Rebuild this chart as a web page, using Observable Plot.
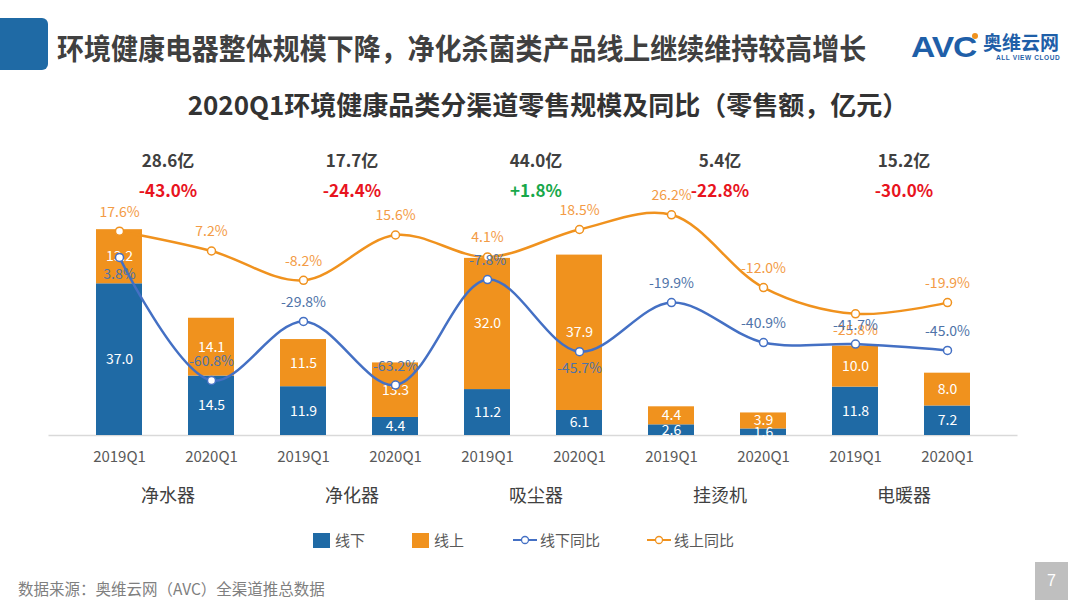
<!DOCTYPE html>
<html><head><meta charset="utf-8">
<script src="https://cdn.jsdelivr.net/npm/d3@7"></script>
<script src="https://cdn.jsdelivr.net/npm/@observablehq/plot@0.6"></script>
<style>
body{margin:0;width:1080px;height:608px;overflow:hidden;background:#fff;font-family:"Noto Sans CJK SC","Noto Sans",sans-serif;position:relative}
.abs{position:absolute;white-space:nowrap}
.lg{position:absolute;top:531px;font-size:15px;color:#595959;line-height:18px;display:flex;align-items:center}
</style></head><body>
<div class="abs" style="left:0;top:18px;width:48px;height:52px;background:#1F6AA5;border-radius:0 6px 6px 0"></div>
<div class="abs" style="left:57px;top:28px;font-size:29px;font-weight:bold;color:#404040;line-height:38px;transform:scaleX(0.93);transform-origin:left">环境健康电器整体规模下降，净化杀菌类产品线上继续维持较高增长</div>
<div class="abs" style="left:911px;top:27px;font-size:30px;font-weight:900;color:#1F5FA8;line-height:40px;letter-spacing:-1px;font-family:'Liberation Sans',sans-serif;transform:scaleX(1.12);transform-origin:left">AVC</div>
<div class="abs" style="left:972px;top:33px;width:6px;height:6px;border-radius:3px;background:#F0921E"></div>
<div class="abs" style="left:983px;top:30px;font-size:19px;font-weight:bold;color:#1F5FA8;line-height:24px">奥维云网</div>
<div class="abs" style="left:996px;top:53px;font-size:6.5px;font-weight:bold;color:#1F5FA8;line-height:9px;letter-spacing:0.6px;font-family:'Liberation Sans',sans-serif">ALL VIEW CLOUD</div>
<div class="abs" style="left:8px;width:1080px;top:87px;text-align:center;font-size:26px;font-weight:bold;color:#333;line-height:34px">2020Q1环境健康品类分渠道零售规模及同比（零售额，亿元）</div>
<div id="chart" class="abs" style="left:0;top:130px"></div>
<div id="legend"></div>
<div class="abs" style="left:18px;top:577px;font-size:15.5px;color:#7F7F7F;line-height:22px">数据来源：奥维云网（AVC）全渠道推总数据</div>
<div class="abs" style="left:1035px;top:562px;width:33px;height:38px;background:#BFBFBF;color:#fff;font-size:16px;line-height:38px;text-align:center;font-family:'Liberation Sans',sans-serif">7</div>
<script>
// ---- data ----
const categories = ["净水器", "净化器", "吸尘器", "挂烫机", "电暖器"];
const periods = ["2019Q1", "2020Q1"];
const offline = [37.0, 14.5, 11.9, 4.4, 11.2, 6.1, 2.6, 1.6, 11.8, 7.2];
const online = [13.2, 14.1, 11.5, 13.3, 32.0, 37.9, 4.4, 3.9, 10.0, 8.0];
const offlineYoY = [3.8, -60.8, -29.8, -63.2, -7.8, -45.7, -19.9, -40.9, -41.7, -45.0];
const onlineYoY = [17.6, 7.2, -8.2, 15.6, 4.1, 18.5, 26.2, -12.0, -25.8, -19.9];
const totals = [28.6, 17.7, 44.0, 5.4, 15.2];
const totalYoY = [-43.0, -24.4, 1.8, -22.8, -30.0];
const channels = ["线下", "线上"];
const yoyNames = ["线下同比", "线上同比"];

// ---- style ----
const BLUE = "#1F6AA5", ORANGE = "#F0921E", LBLUE = "#4470C4", LORANGE = "#F0921E";
const TBLUE = "#4F73A8", TORANGE = "#F39B45";
const offBelow = new Set([0, 5]);   // label placement for 线下同比
const onBelow = new Set([8]);       // label placement for 线上同比

const W = 1080, H = 390, ML = 48.5, MR = 62.5, MT = 59, MB = 85;
const step = (W - ML - MR) / (categories.length * periods.length);

const keys = categories.flatMap(c => periods.map(p => c + "|" + p));
const bars = keys.flatMap((k, i) => [
  {key: k, ch: channels[0], v: offline[i]},
  {key: k, ch: channels[1], v: online[i]}
]);
const offL = keys.map((k, i) => ({key: k, v: offlineYoY[i], below: offBelow.has(i)}));
const onL = keys.map((k, i) => ({key: k, v: onlineYoY[i], below: onBelow.has(i)}));
const sum = categories.map((c, i) => ({key: c + "|" + periods[0], cat: c, t: totals[i], g: totalYoY[i]}));

// secondary (percent) axis mapped onto the primary value axis
const pct = d3.scaleLinear().domain([-89.7, 39.5]).range([0, 60]);
const fmtP = v => v.toFixed(1) + "%";

const lineMarks = (data, stroke, tcol) => [
  Plot.line(data, {x: "key", y: d => pct(d.v), stroke, strokeWidth: 2.5, curve: "catmull-rom"}),
  Plot.dot(data, {x: "key", y: d => pct(d.v), r: 4, fill: "white", stroke, strokeWidth: 1.5}),
  Plot.text(data, {filter: d => !d.below, x: "key", y: d => pct(d.v), text: d => fmtP(d.v), dy: -19, fill: tcol, fontSize: 14}),
  Plot.text(data, {filter: d => d.below, x: "key", y: d => pct(d.v), text: d => fmtP(d.v), dy: 17, fill: tcol, fontSize: 14})
];

const chart = Plot.plot({
  width: W, height: H, marginLeft: ML, marginRight: MR, marginTop: MT, marginBottom: MB,
  style: {fontFamily: "'Noto Sans CJK SC', sans-serif", fontSize: "15px", color: "#595959", background: "transparent", overflow: "visible"},
  x: {domain: keys, padding: 0.5, axis: null},
  y: {domain: [0, 60], axis: null},
  color: {domain: channels, range: [BLUE, ORANGE]},
  marks: [
    Plot.ruleY([0], {stroke: "#D9D9D9", strokeWidth: 1.5}),
    Plot.barY(bars, {x: "key", y: "v", fill: "ch"}),
    Plot.text(bars, Plot.stackY({x: "key", y: "v", z: "ch", text: d => d.v.toFixed(1), fill: "white", fontSize: 14})),
    ...lineMarks(onL, LORANGE, TORANGE),
    ...lineMarks(offL, LBLUE, TBLUE),
    // x tick labels
    Plot.text(keys, {x: d => d, frameAnchor: "bottom", dy: 26, text: d => d.split("|")[1], fontSize: 15, fill: "#595959"}),
    Plot.text(sum, {x: "key", dx: step / 2, frameAnchor: "top", dy: -35, text: d => d.t.toFixed(1) + "亿", fontSize: 17, fontWeight: "bold", fill: "#404040"}),
    Plot.text(sum, {filter: d => d.g < 0, x: "key", dx: step / 2, frameAnchor: "top", dy: -5, text: d => d.g.toFixed(1) + "%", fontSize: 17, fontWeight: "bold", fill: "#E8141E"}),
    Plot.text(sum, {filter: d => d.g >= 0, x: "key", dx: step / 2, frameAnchor: "top", dy: -5, text: d => "+" + d.g.toFixed(1) + "%", fontSize: 17, fontWeight: "bold", fill: "#18A84A"}),
    Plot.text(sum, {x: "key", dx: step / 2, frameAnchor: "bottom", dy: 66, text: "cat", fontSize: 18, fill: "#404040"})
  ]
});
document.getElementById("chart").appendChild(chart);

// legend
const lg = document.getElementById("legend");
const items = [
  {left: 313, sw: `<div style="width:17px;height:15px;background:${BLUE};margin-right:5px"></div>`, label: channels[0]},
  {left: 412, sw: `<div style="width:17px;height:15px;background:${ORANGE};margin-right:5px"></div>`, label: channels[1]},
  {left: 512, sw: `<svg width="26" height="14" style="margin-right:2px"><line x1="1" x2="25" y1="7" y2="7" stroke="${LBLUE}" stroke-width="2"/><circle cx="13" cy="7" r="3.5" fill="white" stroke="${LBLUE}" stroke-width="1.3"/></svg>`, label: yoyNames[0]},
  {left: 646, sw: `<svg width="26" height="14" style="margin-right:2px"><line x1="1" x2="25" y1="7" y2="7" stroke="${LORANGE}" stroke-width="2"/><circle cx="13" cy="7" r="3.5" fill="white" stroke="${LORANGE}" stroke-width="1.3"/></svg>`, label: yoyNames[1]}
];
for (const it of items) {
  const d = document.createElement("div");
  d.className = "lg";
  d.style.left = it.left + "px";
  d.innerHTML = it.sw + `<span>${it.label}</span>`;
  lg.appendChild(d);
}
</script>
</body></html>
